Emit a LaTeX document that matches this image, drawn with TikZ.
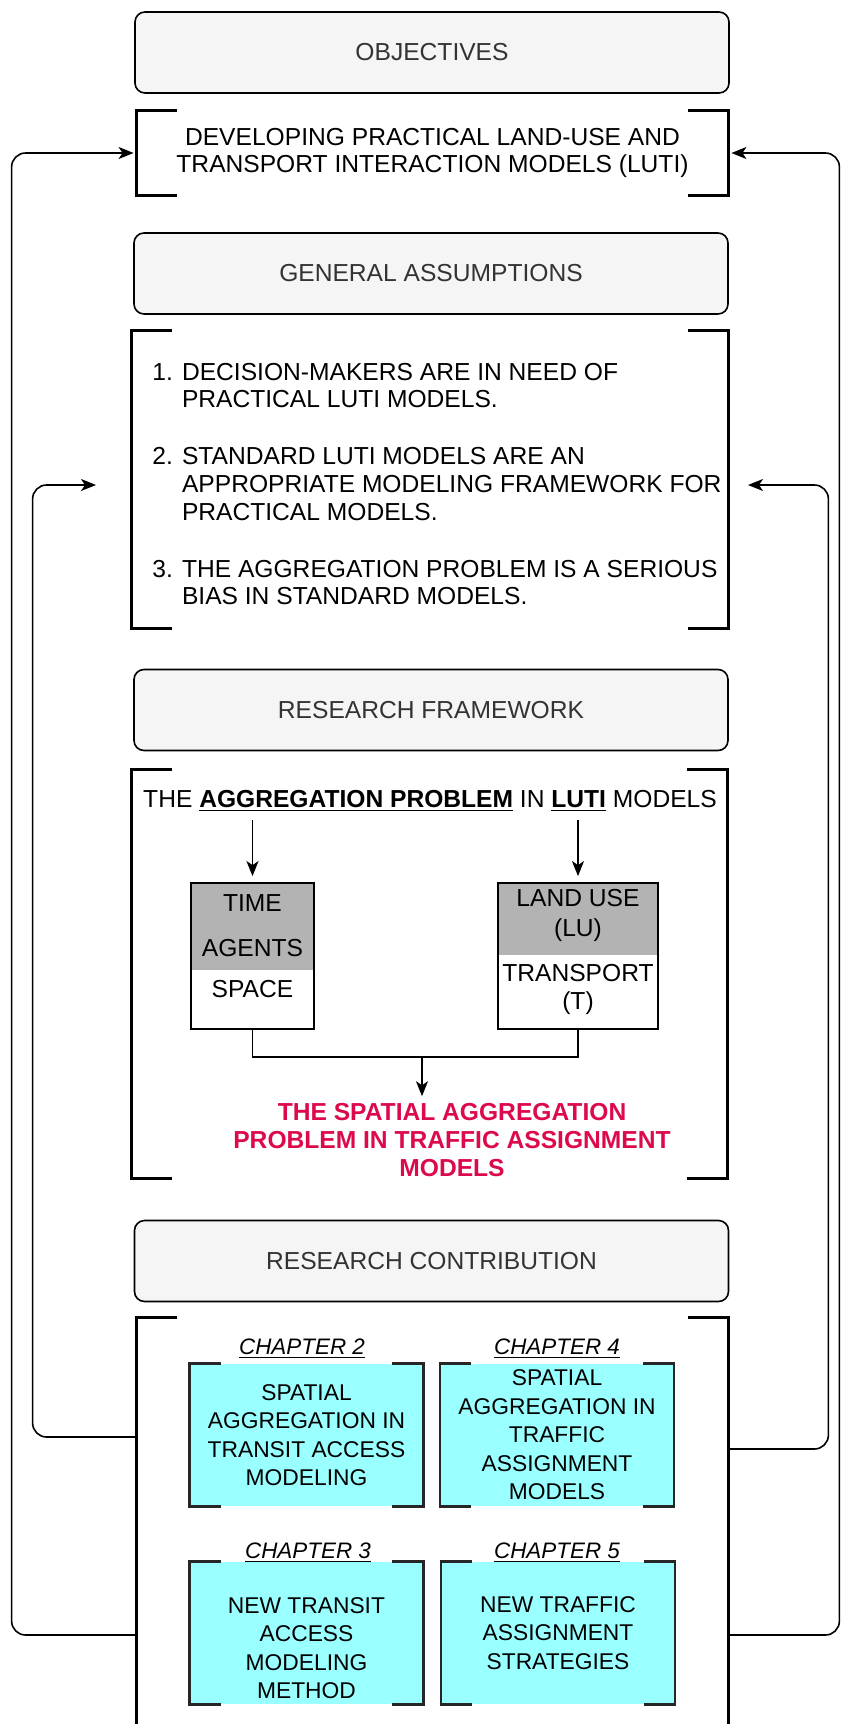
\documentclass[tikz,border=0pt]{standalone}
\usepackage{fontspec}
\setmainfont{Liberation Sans}
\usepackage{xcolor}
\usetikzlibrary{positioning,arrows.meta}

\definecolor{headfill}{HTML}{F5F5F5}
\definecolor{headtext}{HTML}{333333}
\definecolor{factgray}{HTML}{B3B3B3}
\definecolor{chapcyan}{HTML}{99FFFF}
\definecolor{keyred}{HTML}{DC0A4B}

% square brackets on both sides of a node
\newcommand{\bracketpair}[3]{%
  \draw[#3] ([xshift=#2]#1.north west) -- (#1.north west) -- (#1.south west) -- ([xshift=#2]#1.south west);
  \draw[#3] ([xshift=-#2]#1.north east) -- (#1.north east) -- (#1.south east) -- ([xshift=-#2]#1.south east);}

\begin{document}
\begin{tikzpicture}[
  x=0.5pt, y=-0.5pt,
  font=\fontsize{12.3}{13.9}\selectfont,
  header/.style={draw, rounded corners=5pt, fill=headfill, text=headtext, line width=0.8pt,
                 minimum width=297pt, minimum height=40.5pt},
  brk/.style={inner sep=0pt, align=center},
  bracket/.style={line width=1.6pt},
  chapbrk/.style={line width=1.2pt, draw=black!85},
  factbox/.style={draw, line width=0.9pt, fill=white},
  chapbox/.style={fill=chapcyan, minimum width=116.5pt, minimum height=71pt, align=center,
                  inner sep=0pt, font=\fontsize{11.4}{14.25}\selectfont},
  chaplabel/.style={font=\fontsize{11.2}{13.75}\selectfont\itshape, inner sep=1pt},
  link/.style={-{Stealth[length=7.5pt,width=6pt,inset=2pt]}, line width=0.8pt},
  loopline/.style={link, rounded corners=7pt},
]
\useasboundingbox (0,0) rectangle (841,1724);

% section headers
\node[header] (hobj) at (432,52.5) {OBJECTIVES};
\node[header] (hasm) at (431,273.5) {GENERAL ASSUMPTIONS};
\node[header] (hfw) at (431,710) {RESEARCH FRAMEWORK};
\node[header] (hcon) at (431.5,1261) {RESEARCH CONTRIBUTION};

% bracketed blocks
\node[brk, minimum width=295.5pt, minimum height=42pt] (goal) at (432.5,153)
  {DEVELOPING PRACTICAL LAND-USE AND\\TRANSPORT INTERACTION MODELS (LUTI)};
\bracketpair{goal}{20pt}{bracket}

\node[brk, minimum width=298pt, minimum height=148.5pt] (assume) at (430,479.5) {};
\bracketpair{assume}{20pt}{bracket}
\node[anchor=west, inner sep=0pt] (asmtext) at (152,487)
  {\begin{tabular}{@{}r@{ }l@{}}
   1. & DECISION-MAKERS ARE IN NEED OF\\
      & PRACTICAL LUTI MODELS.\\[14.5pt]
   2. & STANDARD LUTI MODELS ARE AN\\
      & APPROPRIATE MODELING FRAMEWORK FOR\\
      & PRACTICAL MODELS.\\[14.5pt]
   3. & THE AGGREGATION PROBLEM IS A SERIOUS\\
      & BIAS IN STANDARD MODELS.
   \end{tabular}};

\node[brk, minimum width=297.5pt, minimum height=204pt] (frame) at (429.5,974) {};
\bracketpair{frame}{20pt}{bracket}
\node[inner sep=4pt] (fwtitle) at (430,801)
  {THE \textbf{\underline{AGGREGATION PROBLEM}} IN \textbf{\underline{LUTI}} MODELS};

\node[factbox, minimum width=61.5pt, minimum height=73pt,
      path picture={\fill[factgray] (path picture bounding box.north west)
        rectangle ([yshift=29.5pt]path picture bounding box.south east);}] (dims) at (252.5,956) {};
\node[align=center, inner sep=0pt] (dimstext) at (252.5,946)
  {TIME\\[8.5pt]AGENTS\\[6.5pt]SPACE};
\node[factbox, minimum width=80pt, minimum height=73pt,
      path picture={\fill[factgray] (path picture bounding box.north west)
        rectangle ([yshift=37pt]path picture bounding box.south east);}] (scope) at (578,956) {};
\node[align=center, inner sep=0pt] (scopetext) at (578,952)
  {LAND USE\\[1pt](LU)\\[9pt]TRANSPORT\\(T)};

\draw[link, shorten >=3pt] (dims.north |- fwtitle.south) -- (dims.north);
\draw[link, shorten >=3pt] (scope.north |- fwtitle.south) -- (scope.north);

\node[align=center, text=keyred, font=\fontsize{12.3}{14}\selectfont\bfseries] (spatial) at (452,1140)
  {THE SPATIAL AGGREGATION\\PROBLEM IN TRAFFIC ASSIGNMENT\\MODELS};
\coordinate (join) at (422,1057);
\draw[line width=0.8pt] (dims.south) |- (join) -| (scope.south);
\draw[link] (join) -- (join |- spatial.north);

% contributions
\node[brk, minimum width=295.5pt, minimum height=213.5pt] (contrib) at (432.5,1531.5) {};
\bracketpair{contrib}{20pt}{bracket}

\node[chapbox] (ch2) at (306.5,1435)
  {SPATIAL\\AGGREGATION IN\\TRANSIT ACCESS\\MODELING};
\node[chapbox] (ch4) at (557,1435)
  {SPATIAL\\AGGREGATION IN\\TRAFFIC\\ASSIGNMENT\\MODELS};
\node[chapbox] (ch3) at (306.5,1633) {};
\node[align=center, inner sep=0pt, font=\fontsize{11.4}{14.25}\selectfont] (ch3text) at (306.5,1648)
  {NEW TRANSIT\\ACCESS\\MODELING\\METHOD};
\node[chapbox] (ch5) at (558,1633)
  {NEW TRAFFIC\\ASSIGNMENT\\STRATEGIES};
\foreach \c in {ch2,ch4,ch3,ch5}
  {\bracketpair{\c}{15.5pt}{chapbrk}}

\node[chaplabel] (lab2) at (302,1349) {\underline{CHAPTER 2}};
\node[chaplabel] (lab4) at (557,1349) {\underline{CHAPTER 4}};
\node[chaplabel] (lab3) at (308,1553) {\underline{CHAPTER 3}};
\node[chaplabel] (lab5) at (557,1553) {\underline{CHAPTER 5}};

% feedback loops
\coordinate (lowrow) at (0,1635);
\coordinate (midrowL) at (0,1437);
\coordinate (midrowR) at (0,1449);
\coordinate (asmL) at (96,485);
\coordinate (asmR) at (748,485);

\draw[loopline, shorten >=1.5pt] (contrib.west |- lowrow) -- ++(-125,0) |- (goal.west);
\draw[loopline, shorten >=1.5pt] (contrib.east |- lowrow) -- ++(111,0) |- (goal.east);
\draw[loopline] (contrib.west |- midrowL) -- ++(-104,0) |- (asmL);
\draw[loopline] (contrib.east |- midrowR) -- ++(100,0) |- (asmR);

\end{tikzpicture}
\end{document}
